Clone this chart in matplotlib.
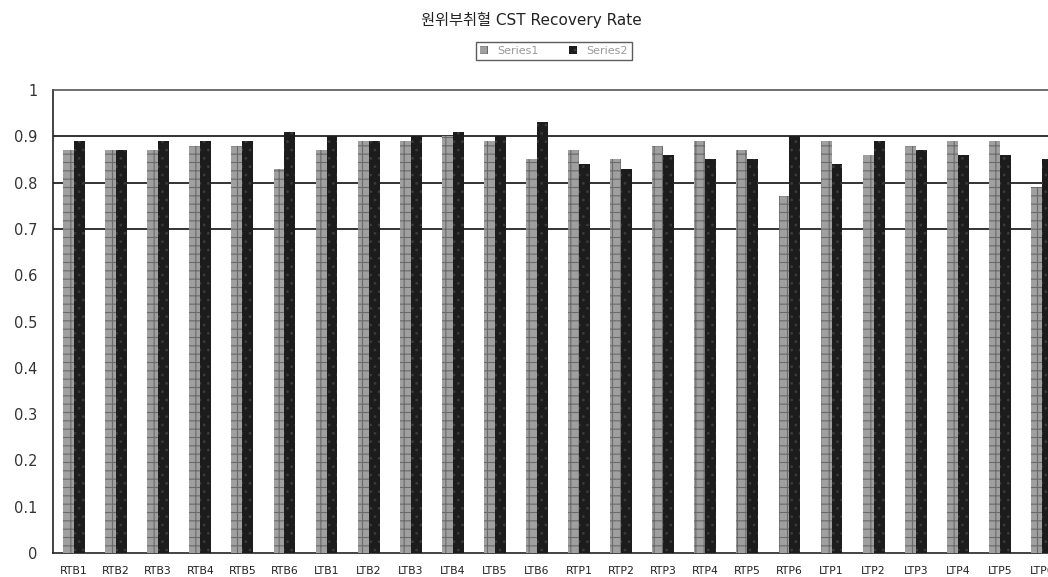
import matplotlib.pyplot as plt
import numpy as np

# categories and the two recovery-rate series
labels = ['RTB1', 'RTB2', 'RTB3', 'RTB4', 'RTB5', 'RTB6',
          'LTB1', 'LTB2', 'LTB3', 'LTB4', 'LTB5', 'LTB6',
          'RTP1', 'RTP2', 'RTP3', 'RTP4', 'RTP5', 'RTP6',
          'LTP1', 'LTP2', 'LTP3', 'LTP4', 'LTP5', 'LTP6']
series1 = [0.87, 0.87, 0.87, 0.88, 0.88, 0.83,
           0.87, 0.89, 0.89, 0.90, 0.89, 0.85,
           0.87, 0.85, 0.88, 0.89, 0.87, 0.77,
           0.89, 0.86, 0.88, 0.89, 0.89, 0.79]
series2 = [0.89, 0.87, 0.89, 0.89, 0.89, 0.91,
           0.90, 0.89, 0.90, 0.91, 0.90, 0.93,
           0.84, 0.83, 0.86, 0.85, 0.85, 0.90,
           0.84, 0.89, 0.87, 0.86, 0.86, 0.85]
series_names = ['Series1', 'Series2']
yticks = [0, 0.1, 0.2, 0.3, 0.4, 0.5, 0.6, 0.7, 0.8, 0.9, 1]

plt.rcParams['font.family'] = ['DejaVu Sans', 'Noto Sans CJK KR']
plt.rcParams['hatch.linewidth'] = 0.8

fig = plt.figure(figsize=(10.48, 5.77), dpi=100)
# plot area runs past the right edge of the image, so LTP6 is cut off
ax = fig.add_axes([53 / 1048, 1 - 553 / 577, 1010 / 1048, 463 / 577])

x = np.arange(len(labels))
w = 0.26
ax.bar(x - w / 2, series1, w, facecolor='#a0a0a0', edgecolor='#6a6a6a',
       hatch='++', linewidth=0, label=series_names[0], zorder=3)
ax.bar(x + w / 2, series2, w, facecolor='#1c1c1c', edgecolor='#3a3a3a',
       hatch='..', linewidth=0, label=series_names[1], zorder=3)

# only the upper gridlines are drawn
for g in [0.7, 0.8, 0.9]:
    ax.axhline(g, color='#111111', lw=1.2, zorder=1)

ax.set_xlim(-0.5, len(labels) - 0.5)
ax.set_ylim(0, 1)
ax.set_yticks(yticks)
ax.set_yticklabels([f'{t:g}' for t in yticks], fontsize=10.5, color='#333333')
ax.set_xticks(x)
ax.set_xticklabels(labels, fontsize=7.8, color='#222222')
ax.tick_params(axis='both', length=0)
ax.tick_params(axis='y', pad=11)
ax.tick_params(axis='x', pad=9)

for side in ['left', 'bottom']:
    ax.spines[side].set_color('#222222')
    ax.spines[side].set_linewidth(1.2)
ax.spines['top'].set_color('#555555')
ax.spines['top'].set_linewidth(1.2)
ax.spines['right'].set_visible(False)

fig.text(531 / 1048, 1 - 20 / 577, '원위부취혈 CST Recovery Rate',
         fontsize=11, ha='center', va='center', color='#222222')

leg = fig.legend(loc='center', bbox_to_anchor=(554 / 1048, 1 - 51 / 577),
                 ncol=2, fontsize=8, frameon=True, fancybox=False,
                 handlelength=0.7, handleheight=0.7, handletextpad=0.8,
                 columnspacing=2.8, borderpad=0.35, labelcolor='#9a9a9a')
leg.get_frame().set_edgecolor('#333333')
leg.get_frame().set_linewidth(1.0)

fig.savefig('out.png', dpi=100)
